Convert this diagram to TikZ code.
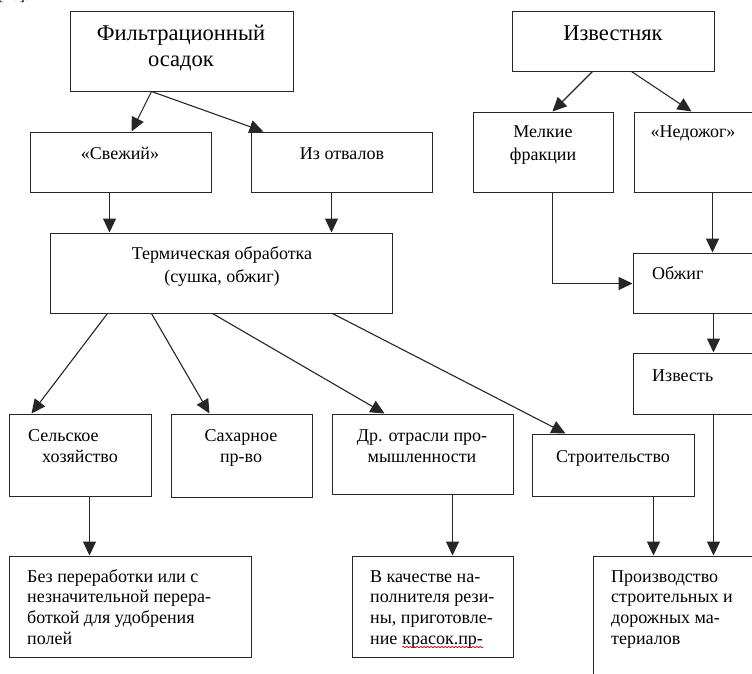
\documentclass[tikz,border=0pt]{standalone}
\usepackage{fontspec}
\setmainfont{Liberation Serif}
\usetikzlibrary{arrows.meta,fit,decorations.pathmorphing}
\begin{document}
\begin{tikzpicture}[x=1pt,y=-1pt,
  boxst/.style={draw=black!85, line width=1pt, inner sep=0pt, rectangle},
  arr/.style={draw=black!85, line width=1.1pt, -{Triangle[length=14pt,width=13pt]}},
  big/.style={font=\fontsize{22.5}{26}\selectfont, inner sep=0pt, anchor=base},
  txt/.style={font=\fontsize{18}{21}\selectfont, inner sep=0pt, anchor=base},
  ltxt/.style={font=\fontsize{18}{21}\selectfont, inner sep=0pt, anchor=base west}]
\useasboundingbox (0,0) rectangle (752,673);
\fill[white] (0,0) rectangle (752,673);
\node[font=\fontsize{16}{19}\selectfont, inner sep=0pt, anchor=base west] (ref) at (-2,0) {[16].};
% boxes
\node[boxst, fit={(70,11) (293,91)}] (F) {};
\node[boxst, fit={(30,132) (211,192)}] (Sv) {};
\node[boxst, fit={(251,132) (432,192)}] (Iz) {};
\node[boxst, fit={(50,233) (392,313)}] (T) {};
\node[boxst, fit={(9,414) (151,496)}] (Sel) {};
\node[boxst, fit={(171,414) (312,497)}] (Sah) {};
\node[boxst, fit={(332,414) (513,494)}] (Dr) {};
\node[boxst, fit={(532,434) (694,496)}] (Str) {};
\node[boxst, fit={(9,556) (251,657)}] (Bez) {};
\node[boxst, fit={(352,556) (513,657)}] (Vk) {};
\node[boxst, fit={(593,556) (800,720)}] (Pr) {};
\node[boxst, fit={(512,11) (714,71)}] (Izk) {};
\node[boxst, fit={(473,112) (613,192)}] (Mel) {};
\node[boxst, fit={(634,112) (800,192)}] (Ned) {};
\node[boxst, fit={(633,253) (800,313)}] (Obz) {};
\node[boxst, fit={(633,353) (800,414)}] (Izv) {};
% texts
\node[big] (tF1) at (181,40) {Фильтрационный};
\node[big] (tF2) at (181,66) {осадок};
\node[big] (tIzk) at (613,40) {Известняк};
\node[txt] (tSv) at (120,159) {«Свежий»};
\node[txt] (tIz) at (342,159) {Из отвалов};
\node[txt] (tT1) at (222,259) {Термическая обработка};
\node[txt] (tT2) at (222,282) {(сушка, обжиг)};
\node[txt] (tMel1) at (543,137) {Мелкие};
\node[txt] (tMel2) at (543,160) {фракции};
\node[txt] (tNed) at (693,137) {«Недожог»};
\node[ltxt] (tObz) at (652,279) {Обжиг};
\node[ltxt] (tIzv) at (652,381) {Известь};
\node[ltxt] (tSel1) at (28,441) {Сельское};
\node[ltxt] (tSel2) at (42,462) {хозяйство};
\node[txt] (tSah1) at (241,441) {Сахарное};
\node[txt] (tSah2) at (241,462) {пр-во};
\node[txt] (tDr1) at (422,441) {Др. отрасли про-};
\node[txt] (tDr2) at (422,462) {мышленности};
\node[txt] (tStr) at (613,462) {Строительство};
\node[ltxt] (tB1) at (27,582) {Без переработки или с};
\node[ltxt] (tB2) at (27,602) {незначительной перера-};
\node[ltxt] (tB3) at (27,623) {боткой для удобрения};
\node[ltxt] (tB4) at (27,644) {полей};
\node[ltxt] (tV1) at (370,582) {В качестве на-};
\node[ltxt] (tV2) at (370,602) {полнителя рези-};
\node[ltxt] (tV3) at (370,623) {ны, приготовле-};
\node[ltxt] (tV4) at (370,644) {ние};
\node[ltxt] (tV4b) at ([xshift=4.5pt]tV4.base east) {красок.пр-};
\node[ltxt] (tP1) at (611,582) {Производство};
\node[ltxt] (tP2) at (611,602) {строительных и};
\node[ltxt] (tP3) at (611,623) {дорожных ма-};
\node[ltxt] (tP4) at (611,644) {териалов};
\draw[red!85!black, line width=0.6pt, decorate, decoration={snake, amplitude=0.8pt, segment length=3.5pt}] ([yshift=-3pt]tV4b.base west) -- ([yshift=-3pt]tV4b.base east);
% connectors
\coordinate (Fo) at ([xshift=82pt]F.south west);
\draw[arr] (Fo) -- ([xshift=102pt]Sv.north west);
\draw[arr] (Fo) -- ([xshift=13pt]Iz.north west);
\draw[arr] ([xshift=80pt]Sv.south west) -- ([xshift=60pt]T.north west);
\draw[arr] ([xshift=81pt]Iz.south west) -- ([xshift=282pt]T.north west);
\draw[arr] ([xshift=58pt]T.south west) -- ([xshift=23pt]Sel.north west);
\draw[arr] ([xshift=102pt]T.south west) -- ([xshift=39pt]Sah.north west);
\draw[arr] ([xshift=163pt]T.south west) -- ([xshift=53pt]Dr.north west);
\draw[arr] ([xshift=283pt]T.south west) -- ([xshift=34pt]Str.north west);
\draw[arr] ([xshift=81pt]Sel.south west) -- ([xshift=81pt]Bez.north west);
\draw[arr] ([xshift=121pt]Dr.south west) -- ([xshift=101pt]Vk.north west);
\draw[arr] ([xshift=122pt]Str.south west) -- ([xshift=61pt]Pr.north west);
\draw[arr] ([xshift=81pt]Izv.south west) -- ([xshift=121pt]Pr.north west);
\draw[arr] ([xshift=81pt]Izk.south west) -- ([xshift=80pt]Mel.north west);
\draw[arr] ([xshift=120pt]Izk.south west) -- ([xshift=58pt]Ned.north west);
\draw[arr] ([xshift=80pt]Mel.south west) |- ([yshift=-0.5pt]Obz.west);
\draw[arr] ([xshift=79pt]Ned.south west) -- ([xshift=80pt]Obz.north west);
\draw[arr] ([xshift=81pt]Obz.south west) -- ([xshift=81pt]Izv.north west);
\end{tikzpicture}
\end{document}
